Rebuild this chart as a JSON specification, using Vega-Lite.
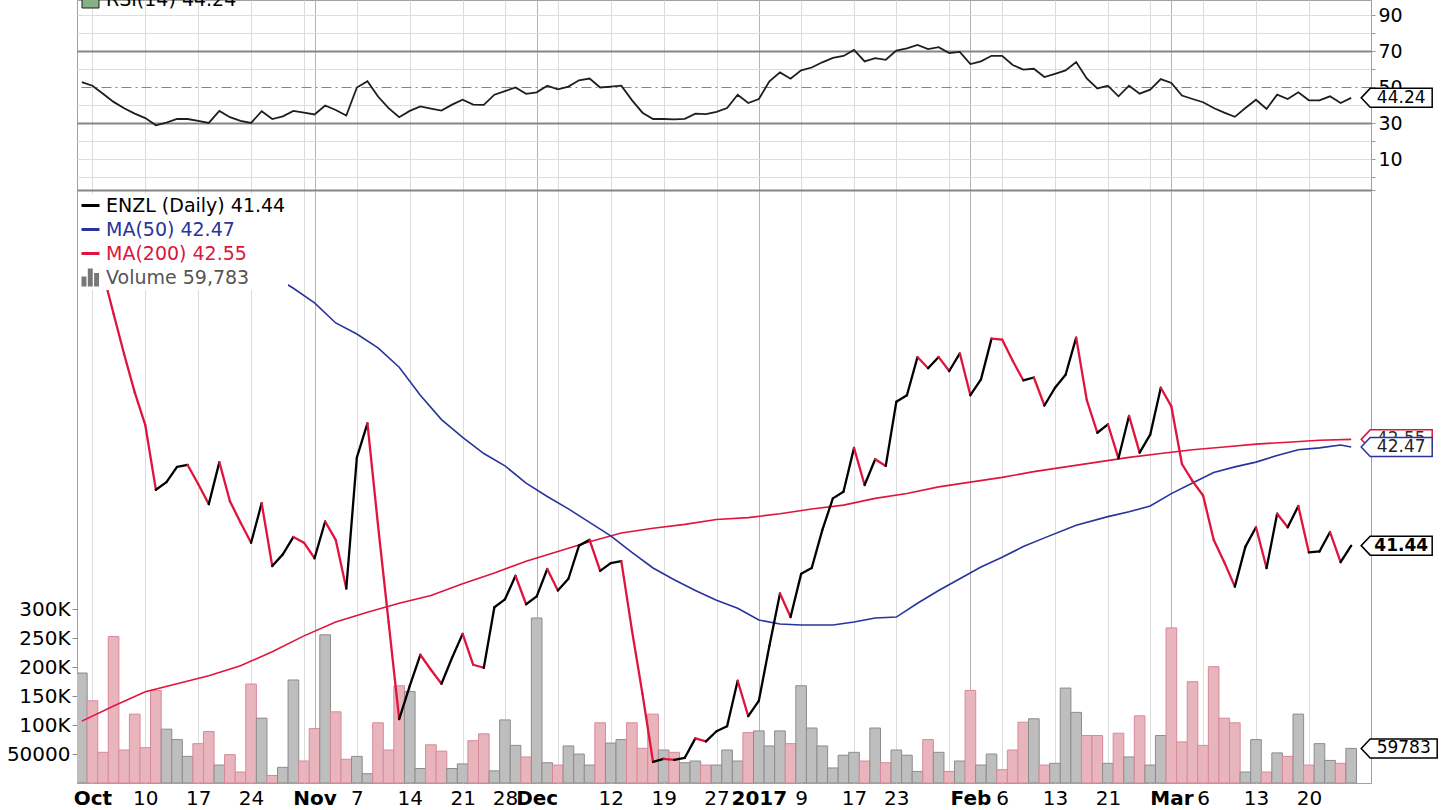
{
"$schema": "https://vega.github.io/schema/vega-lite/v6.json",
"width": 1294, "height": 783,
"autosize": "none",
"padding": {"left": 77, "top": 0, "right": 83, "bottom": 27},
"background": "white",
"config": {"view": {"stroke": "#a0a0a0", "strokeWidth": 1}, "font": "DejaVu Sans", "axis": {"labelFont": "DejaVu Sans", "labelColor": "#111111"}},
"datasets": {
"daily": [
{"day":-1,"close":45.4,"volume":190000,"rsi":53},
{"day":0,"close":44.55,"volume":142000,"rsi":51},
{"day":1,"close":44.35,"volume":53000,"rsi":46.5},
{"day":2,"close":43.9,"volume":253000,"rsi":42},
{"day":3,"close":43.46,"volume":57000,"rsi":38.5},
{"day":4,"close":43.05,"volume":119000,"rsi":35.5},
{"day":5,"close":42.7,"volume":61000,"rsi":33},
{"day":6,"close":42.02,"volume":160000,"rsi":29},
{"day":7,"close":42.1,"volume":93000,"rsi":30.5},
{"day":8,"close":42.26,"volume":75000,"rsi":32.5},
{"day":9,"close":42.28,"volume":46000,"rsi":32.5},
{"day":10,"close":42.08,"volume":68000,"rsi":31.5},
{"day":11,"close":41.87,"volume":89000,"rsi":30.3},
{"day":12,"close":42.31,"volume":31000,"rsi":37},
{"day":13,"close":41.9,"volume":49000,"rsi":33.5},
{"day":14,"close":41.68,"volume":19000,"rsi":31.5},
{"day":15,"close":41.47,"volume":171000,"rsi":30.3},
{"day":16,"close":41.88,"volume":112000,"rsi":36.8},
{"day":17,"close":41.23,"volume":13000,"rsi":32.5},
{"day":18,"close":41.35,"volume":27000,"rsi":34},
{"day":19,"close":41.53,"volume":178000,"rsi":37},
{"day":20,"close":41.47,"volume":38000,"rsi":36},
{"day":21,"close":41.31,"volume":94000,"rsi":35},
{"day":22,"close":41.69,"volume":256000,"rsi":40},
{"day":23,"close":41.5,"volume":123000,"rsi":37.5},
{"day":24,"close":41.0,"volume":41000,"rsi":34.4},
{"day":25,"close":42.36,"volume":46000,"rsi":50},
{"day":26,"close":42.72,"volume":16000,"rsi":53.5},
{"day":27,"close":41.65,"volume":104000,"rsi":45},
{"day":28,"close":40.66,"volume":57000,"rsi":38.5},
{"day":29,"close":39.69,"volume":168000,"rsi":33.5},
{"day":30,"close":40.02,"volume":158000,"rsi":37},
{"day":31,"close":40.33,"volume":25000,"rsi":39.5},
{"day":32,"close":40.18,"volume":66000,"rsi":38.3},
{"day":33,"close":40.04,"volume":55000,"rsi":37.2},
{"day":34,"close":40.3,"volume":25000,"rsi":40.5},
{"day":35,"close":40.54,"volume":33000,"rsi":43.2},
{"day":36,"close":40.23,"volume":73000,"rsi":40.5},
{"day":37,"close":40.2,"volume":85000,"rsi":40.3},
{"day":38,"close":40.81,"volume":21000,"rsi":46},
{"day":39,"close":40.89,"volume":109000,"rsi":48},
{"day":40,"close":41.13,"volume":65000,"rsi":50},
{"day":41,"close":40.84,"volume":45000,"rsi":46.5},
{"day":42,"close":40.92,"volume":285000,"rsi":47.3},
{"day":43,"close":41.2,"volume":35000,"rsi":51},
{"day":44,"close":40.98,"volume":31000,"rsi":49},
{"day":45,"close":41.1,"volume":64000,"rsi":50.5},
{"day":46,"close":41.44,"volume":50000,"rsi":54},
{"day":47,"close":41.5,"volume":31000,"rsi":55},
{"day":48,"close":41.18,"volume":104000,"rsi":50},
{"day":49,"close":41.26,"volume":69000,"rsi":50.5},
{"day":50,"close":41.28,"volume":75000,"rsi":51},
{"day":51,"close":40.58,"volume":104000,"rsi":43},
{"day":52,"close":39.94,"volume":60000,"rsi":36},
{"day":53,"close":39.27,"volume":119000,"rsi":32.5},
{"day":54,"close":39.3,"volume":57000,"rsi":32.5},
{"day":55,"close":39.29,"volume":53000,"rsi":32.3},
{"day":56,"close":39.31,"volume":35000,"rsi":32.6},
{"day":57,"close":39.5,"volume":38000,"rsi":35.5},
{"day":58,"close":39.47,"volume":31000,"rsi":35.2},
{"day":59,"close":39.57,"volume":31000,"rsi":36.5},
{"day":60,"close":39.62,"volume":57000,"rsi":38.6},
{"day":61,"close":40.07,"volume":38000,"rsi":46},
{"day":62,"close":39.72,"volume":87000,"rsi":41.4},
{"day":63,"close":39.87,"volume":90000,"rsi":43.6},
{"day":64,"close":40.42,"volume":64000,"rsi":53.4},
{"day":65,"close":40.95,"volume":90000,"rsi":58.4},
{"day":66,"close":40.71,"volume":68000,"rsi":54.9},
{"day":67,"close":41.15,"volume":168000,"rsi":59.5},
{"day":68,"close":41.21,"volume":95000,"rsi":61.1},
{"day":69,"close":41.6,"volume":64000,"rsi":64},
{"day":70,"close":41.93,"volume":26000,"rsi":66.5},
{"day":71,"close":42.0,"volume":48000,"rsi":67.5},
{"day":72,"close":42.46,"volume":53000,"rsi":70.9},
{"day":73,"close":42.07,"volume":38000,"rsi":64.5},
{"day":74,"close":42.34,"volume":95000,"rsi":66.3},
{"day":75,"close":42.27,"volume":35000,"rsi":65.4},
{"day":76,"close":42.95,"volume":57000,"rsi":70.5},
{"day":77,"close":43.02,"volume":48000,"rsi":71.8},
{"day":78,"close":43.43,"volume":20000,"rsi":73.7},
{"day":79,"close":43.31,"volume":75000,"rsi":71.3},
{"day":80,"close":43.43,"volume":53000,"rsi":72.4},
{"day":81,"close":43.28,"volume":20000,"rsi":69.1},
{"day":82,"close":43.47,"volume":38000,"rsi":69.8},
{"day":83,"close":43.02,"volume":160000,"rsi":63},
{"day":84,"close":43.19,"volume":31000,"rsi":64.5},
{"day":85,"close":43.63,"volume":50000,"rsi":67.6},
{"day":86,"close":43.62,"volume":23000,"rsi":67.6},
{"day":87,"close":43.39,"volume":57000,"rsi":62.5},
{"day":88,"close":43.18,"volume":105000,"rsi":59.9},
{"day":89,"close":43.21,"volume":111000,"rsi":60.4},
{"day":90,"close":42.91,"volume":31000,"rsi":55.8},
{"day":91,"close":43.1,"volume":34000,"rsi":57.6},
{"day":92,"close":43.24,"volume":164000,"rsi":59.5},
{"day":93,"close":43.64,"volume":122000,"rsi":64.1},
{"day":94,"close":42.97,"volume":82000,"rsi":55},
{"day":95,"close":42.62,"volume":82000,"rsi":49.5},
{"day":96,"close":42.71,"volume":34000,"rsi":51},
{"day":97,"close":42.35,"volume":86000,"rsi":45.1},
{"day":98,"close":42.8,"volume":45000,"rsi":51},
{"day":99,"close":42.41,"volume":116000,"rsi":46.6},
{"day":100,"close":42.6,"volume":31000,"rsi":48.8},
{"day":101,"close":43.1,"volume":82000,"rsi":54.7},
{"day":102,"close":42.9,"volume":268000,"rsi":52.5},
{"day":103,"close":42.29,"volume":71000,"rsi":45.5},
{"day":104,"close":42.11,"volume":175000,"rsi":43.6},
{"day":105,"close":41.96,"volume":65000,"rsi":41.8},
{"day":106,"close":41.5,"volume":201000,"rsi":38.6},
{"day":107,"close":41.27,"volume":112000,"rsi":36},
{"day":108,"close":41.02,"volume":104000,"rsi":33.7},
{"day":109,"close":41.43,"volume":19000,"rsi":38.6},
{"day":110,"close":41.63,"volume":75000,"rsi":43.2},
{"day":111,"close":41.21,"volume":19000,"rsi":38.1},
{"day":112,"close":41.77,"volume":52000,"rsi":46},
{"day":113,"close":41.63,"volume":46000,"rsi":43.6},
{"day":114,"close":41.85,"volume":119000,"rsi":47.3},
{"day":115,"close":41.37,"volume":31000,"rsi":42.9},
{"day":116,"close":41.38,"volume":68000,"rsi":42.9},
{"day":117,"close":41.58,"volume":39000,"rsi":45.1},
{"day":118,"close":41.27,"volume":34000,"rsi":41.4},
{"day":119,"close":41.44,"volume":59783,"rsi":44.24}
],
"ma50": [
{"day":15,"ma":44.45},{"day":17,"ma":44.32},{"day":19,"ma":44.18},{"day":21,"ma":44.02},{"day":23,"ma":43.8},
{"day":25,"ma":43.68},{"day":27,"ma":43.53},{"day":29,"ma":43.32},{"day":31,"ma":43.02},{"day":33,"ma":42.76},
{"day":35,"ma":42.57},{"day":37,"ma":42.4},{"day":39,"ma":42.27},{"day":41,"ma":42.09},{"day":43,"ma":41.95},
{"day":45,"ma":41.82},{"day":47,"ma":41.68},{"day":49,"ma":41.54},{"day":51,"ma":41.37},{"day":53,"ma":41.21},
{"day":55,"ma":41.09},{"day":57,"ma":40.98},{"day":59,"ma":40.88},{"day":61,"ma":40.8},{"day":63,"ma":40.68},
{"day":65,"ma":40.64},{"day":67,"ma":40.63},{"day":70,"ma":40.63},{"day":72,"ma":40.66},{"day":74,"ma":40.7},
{"day":76,"ma":40.71},{"day":78,"ma":40.85},{"day":80,"ma":40.98},{"day":82,"ma":41.1},{"day":84,"ma":41.22},
{"day":86,"ma":41.32},{"day":88,"ma":41.43},{"day":90,"ma":41.52},{"day":93,"ma":41.65},{"day":96,"ma":41.74},
{"day":98,"ma":41.79},{"day":100,"ma":41.85},{"day":102,"ma":41.98},{"day":104,"ma":42.09},{"day":106,"ma":42.2},
{"day":108,"ma":42.26},{"day":110,"ma":42.31},{"day":112,"ma":42.38},{"day":114,"ma":42.44},{"day":116,"ma":42.46},
{"day":118,"ma":42.49},{"day":119,"ma":42.47}
],
"ma200": [
{"day":-1,"ma":39.67},{"day":2,"ma":39.82},{"day":5,"ma":39.96},{"day":8,"ma":40.04},{"day":11,"ma":40.12},
{"day":14,"ma":40.22},{"day":17,"ma":40.36},{"day":20,"ma":40.52},{"day":23,"ma":40.66},{"day":26,"ma":40.76},
{"day":29,"ma":40.85},{"day":32,"ma":40.93},{"day":35,"ma":41.05},{"day":38,"ma":41.16},{"day":41,"ma":41.28},
{"day":44,"ma":41.38},{"day":47,"ma":41.48},{"day":50,"ma":41.57},{"day":53,"ma":41.62},{"day":56,"ma":41.66},
{"day":59,"ma":41.71},{"day":62,"ma":41.73},{"day":65,"ma":41.77},{"day":68,"ma":41.82},{"day":71,"ma":41.86},
{"day":74,"ma":41.93},{"day":77,"ma":41.98},{"day":80,"ma":42.05},{"day":83,"ma":42.1},{"day":86,"ma":42.15},
{"day":89,"ma":42.21},{"day":92,"ma":42.26},{"day":95,"ma":42.31},{"day":98,"ma":42.36},{"day":101,"ma":42.4},
{"day":104,"ma":42.44},{"day":107,"ma":42.47},{"day":110,"ma":42.5},{"day":113,"ma":42.52},{"day":116,"ma":42.54},
{"day":119,"ma":42.55}
]
},
"data": {"name": "daily"},
"encoding": {
"x": {"field": "day", "type": "quantitative",
"scale": {"domain": [-0.985, 120.4], "nice": false, "zero": false},
"axis": {"title": null,
"values": [0,5,10,15,20,21,25,30,35,39,42,44,49,54,59,63,67,72,76,81,83,86,91,96,100,102,105,110,115],
"labelExpr": "['Oct','10','17','24','','Nov','7','14','21','28','Dec','','12','19','27','2017','9','17','23','','Feb','6','13','21','','Mar','6','13','20'][indexof([0,5,10,15,20,21,25,30,35,39,42,44,49,54,59,63,67,72,76,81,83,86,91,96,100,102,105,110,115], datum.value)]",
"labelFontWeight": {"condition": {"test": "indexof([0,21,42,63,83,102], datum.value) >= 0", "value": "bold"}, "value": "normal"},
"grid": true,
"gridColor": {"condition": {"test": "indexof([21,42,63,83,102], datum.value) >= 0", "value": "#b4b4b4"}, "value": "#dcdcdc"},
"ticks": false, "domain": false, "labelOverlap": false, "labelFlush": false, "labelBound": false,
"labelPadding": 5, "labelFontSize": 20, "labelColor": "#000000"}}
},
"layer": [
{
"transform": [{"window": [{"op": "lag", "field": "close", "as": "prev"}], "sort": [{"field": "day"}]}],
"encoding": {"y": {"field": "volume", "type": "quantitative",
"scale": {"domain": [0, 1352800], "nice": false, "zero": true},
"axis": {"orient": "left", "title": null, "values": [50000,100000,150000,200000,250000,300000],
"labelExpr": "datum.value >= 100000 ? (datum.value / 1000) + 'K' : '' + datum.value",
"grid": false, "domain": false, "tickSize": 5, "tickColor": "#888888", "labelPadding": 2, "labelFontSize": 20, "labelColor": "#000000"}}},
"layer": [
{"mark": {"type": "bar", "width": 10.66, "clip": true, "strokeWidth": 1},
"encoding": {
"fill": {"condition": {"test": "datum.prev != null && datum.close < datum.prev", "value": "#e9b5bd"}, "value": "#bebebe"},
"stroke": {"condition": {"test": "datum.prev != null && datum.close < datum.prev", "value": "#d7899a"}, "value": "#8c8c8c"}}},
{"transform": [{"filter": "datum.day == 119"}],
"mark": {"type": "point", "shape": "M0.2,0L0.38,-0.19L1.72,-0.19L1.72,0.19L0.38,0.19Z", "size": 10000, "filled": true, "fill": "#ffffff", "stroke": "#000000", "strokeWidth": 1.5, "opacity": 1}},
{"transform": [{"filter": "datum.day == 119"}],
"mark": {"type": "text", "dx": 52.5, "align": "center", "baseline": "middle", "font": "DejaVu Sans", "fontSize": 17, "color": "#000000"},
"encoding": {"text": {"field": "volume", "type": "quantitative", "format": "d"}}}
]
},
{
"encoding": {"y": {"field": "rsi", "type": "quantitative",
"scale": {"domain": [-336.39, 98.61], "nice": false, "zero": false},
"axis": {"orient": "right", "title": null, "values": [-6.94,0,10,20,30,40,50,60,70,80,90],
"labelExpr": "datum.value > 0 && datum.value % 20 == 10 ? datum.label : ''",
"grid": true,
"gridColor": {"condition": {"test": "datum.value == 30 || datum.value == 50 || datum.value == 70 || datum.value < 0", "value": "#858585"}, "value": "#dedede"},
"gridWidth": {"condition": {"test": "datum.value == 30 || datum.value == 70 || datum.value < 0", "value": 2}, "value": 1},
"gridDash": {"condition": {"test": "datum.value == 50", "value": [10, 4, 2, 4]}, "value": []},
"domain": false, "tickSize": 4, "tickColor": "#999999", "labelPadding": 3, "labelFontSize": 19, "labelColor": "#000000"}}},
"layer": [
{"mark": {"type": "line", "strokeWidth": 1.8, "clip": true},
"encoding": {"stroke": {"datum": "RSI(14) 44.24", "type": "nominal",
"scale": {"domain": ["RSI(14) 44.24"], "range": ["#1e1e1e"]},
"legend": {"orient": "none", "legendX": 4, "legendY": -10, "title": null, "padding": 0, "labelLimit": 400,
"symbolType": "square", "symbolSize": 289, "labelFont": "DejaVu Sans", "labelFontSize": 19, "labelColor": "#000000", "labelOffset": 6,
"encode": {"symbols": {"update": {"fill": {"value": "#86b086"}, "stroke": {"value": "#4a7a4a"}, "strokeWidth": {"value": 1}}}}}}}},
{"transform": [{"filter": "datum.day == 119"}],
"mark": {"type": "point", "shape": "M0.2,0L0.38,-0.19L1.62,-0.19L1.62,0.19L0.38,0.19Z", "size": 10000, "filled": true, "fill": "#ffffff", "stroke": "#000000", "strokeWidth": 1.5, "opacity": 1}},
{"transform": [{"filter": "datum.day == 119"}],
"mark": {"type": "text", "dx": 50, "align": "center", "baseline": "middle", "font": "DejaVu Sans", "fontSize": 17, "color": "#000000"},
"encoding": {"text": {"field": "rsi", "type": "quantitative", "format": ".2f"}}}
]
},
{
"layer": [
{"data": {"name": "ma200"},
"mark": {"type": "line", "strokeWidth": 1.6, "clip": true},
"encoding": {"y": {"field": "ma", "type": "quantitative", "scale": {"type": "log", "domain": [39.064, 47.464], "nice": false}, "axis": null},
"color": {"datum": "MA(200) 42.55", "type": "nominal",
"scale": {"domain": ["ENZL (Daily) 41.44", "MA(50) 42.47", "MA(200) 42.55", "Volume 59,783"], "range": ["#000000", "#27349b", "#e0143c", "#666666"]},
"legend": {"orient": "none", "legendX": 2, "legendY": 194, "title": null, "padding": 2, "fillColor": "#ffffff", "labelLimit": 400,
"symbolType": "stroke", "symbolSize": 324, "symbolStrokeWidth": 3, "rowPadding": 4, "labelOffset": 6,
"labelFont": "DejaVu Sans", "labelFontSize": 19,
"encode": {
"labels": {"update": {"fill": {"signal": "datum.value === 'MA(50) 42.47' ? '#27349b' : datum.value === 'MA(200) 42.55' ? '#e0143c' : datum.value === 'Volume 59,783' ? '#555555' : '#000000'"}}},
"symbols": {"update": {
"shape": {"signal": "datum.value === 'Volume 59,783' ? 'M-1,1L-1,-0.1L-0.45,-0.1L-0.45,1ZM-0.3,1L-0.3,-1L0.25,-1L0.25,1ZM0.4,1L0.4,-0.5L0.95,-0.5L0.95,1Z' : 'stroke'"},
"fill": {"signal": "datum.value === 'Volume 59,783' ? '#777777' : 'transparent'"},
"strokeWidth": {"signal": "datum.value === 'Volume 59,783' ? 0 : 3"}}}}}}}},
{"data": {"name": "ma50"},
"mark": {"type": "line", "strokeWidth": 1.6, "clip": true},
"encoding": {"y": {"field": "ma", "type": "quantitative", "scale": {"type": "log", "domain": [39.064, 47.464], "nice": false}, "axis": null},
"color": {"datum": "MA(50) 42.47", "type": "nominal"}}},
{"transform": [
{"window": [{"op": "lag", "field": "close", "as": "prev"}, {"op": "lag", "field": "day", "as": "pday"}], "sort": [{"field": "day"}]},
{"filter": "datum.day > 0"}],
"mark": {"type": "rule", "strokeWidth": 2.3, "strokeCap": "round"},
"encoding": {
"x2": {"field": "pday"},
"y": {"field": "close", "type": "quantitative", "scale": {"type": "log", "domain": [39.064, 47.464], "nice": false},
"axis": {"orient": "right", "title": null, "values": [39.5,40,40.5,41,41.5,42,42.5,43,43.5,44,44.5,45], "format": ".1f",
"labelExpr": "datum.value < 39.9 ? '' : datum.label", "grid": true, "gridColor": "#dedede",
"domain": false, "tickSize": 4, "tickColor": "#999999", "labelPadding": 3, "labelFontSize": 19, "labelColor": "#000000"}},
"y2": {"field": "prev"},
"color": {"condition": {"test": "datum.close < datum.prev", "value": "#e0143c"}, "value": "#000000"}}},
{"data": {"name": "ma200"}, "transform": [{"filter": "datum.day == 119"}],
"encoding": {"y": {"field": "ma", "type": "quantitative", "scale": {"type": "log", "domain": [39.064, 47.464], "nice": false}, "axis": null}},
"layer": [
{"mark": {"type": "point", "shape": "M0.2,0L0.38,-0.19L1.62,-0.19L1.62,0.19L0.38,0.19Z", "size": 10000, "filled": true, "fill": "#ffffff", "stroke": "#e0143c", "strokeWidth": 1.5, "opacity": 1}},
{"mark": {"type": "text", "dx": 50, "align": "center", "baseline": "middle", "font": "DejaVu Sans", "fontSize": 17, "color": "#333333"},
"encoding": {"text": {"field": "ma", "type": "quantitative", "format": ".2f"}}}]},
{"data": {"name": "ma50"}, "transform": [{"filter": "datum.day == 119"}],
"encoding": {"y": {"field": "ma", "type": "quantitative", "scale": {"type": "log", "domain": [39.064, 47.464], "nice": false}, "axis": null}},
"layer": [
{"mark": {"type": "point", "shape": "M0.2,0L0.38,-0.19L1.62,-0.19L1.62,0.19L0.38,0.19Z", "size": 10000, "filled": true, "fill": "#ffffff", "stroke": "#27349b", "strokeWidth": 1.5, "opacity": 1}},
{"mark": {"type": "text", "dx": 50, "align": "center", "baseline": "middle", "font": "DejaVu Sans", "fontSize": 17, "color": "#222222"},
"encoding": {"text": {"field": "ma", "type": "quantitative", "format": ".2f"}}}]},
{"transform": [{"filter": "datum.day == 119"}],
"encoding": {"y": {"field": "close", "type": "quantitative", "scale": {"type": "log", "domain": [39.064, 47.464], "nice": false}, "axis": null}},
"layer": [
{"mark": {"type": "point", "shape": "M0.2,0L0.38,-0.19L1.62,-0.19L1.62,0.19L0.38,0.19Z", "size": 10000, "filled": true, "fill": "#ffffff", "stroke": "#000000", "strokeWidth": 1.5, "opacity": 1}},
{"mark": {"type": "text", "dx": 50, "align": "center", "baseline": "middle", "font": "DejaVu Sans", "fontSize": 17, "fontWeight": "bold", "color": "#000000"},
"encoding": {"text": {"field": "close", "type": "quantitative", "format": ".2f"}}}]}
]
}
],
"resolve": {"scale": {"y": "independent"}, "axis": {"y": "independent"}}
}
